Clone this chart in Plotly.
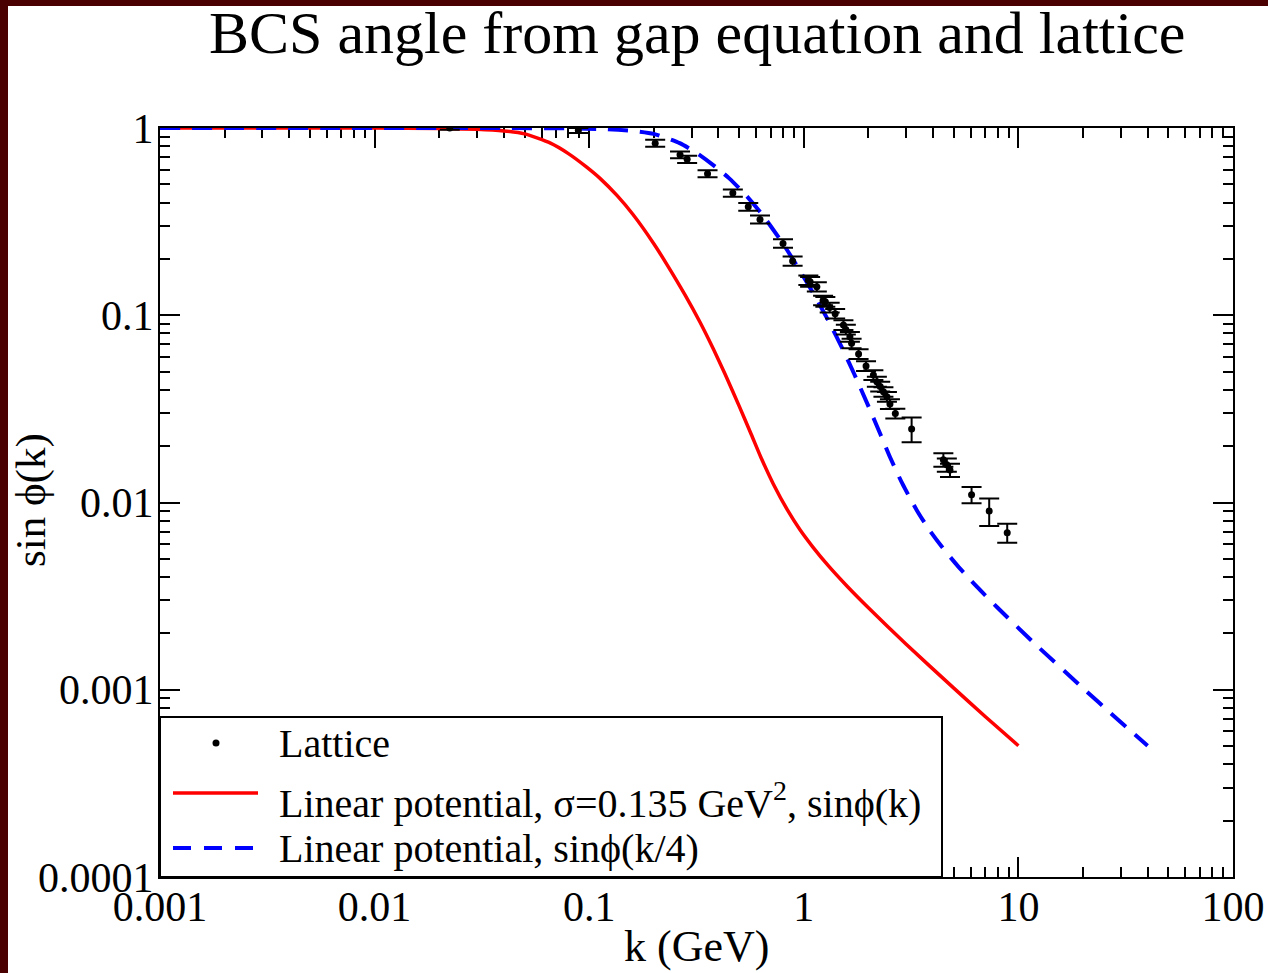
import plotly.graph_objects as go

# ---- data -------------------------------------------------------------
# lattice points: momentum k (GeV), sin phi(k), symmetric error
lattice_k = [0.0224, 0.089, 0.203, 0.265, 0.286, 0.356, 0.467, 0.551, 0.625,
             0.80, 0.887, 1.05, 1.07, 1.15, 1.23, 1.26, 1.32, 1.40, 1.53,
             1.57, 1.64, 1.67, 1.80, 1.95, 2.11, 2.19, 2.27, 2.35, 2.44,
             2.52, 2.67, 3.18, 4.47, 4.64, 4.80, 6.05, 7.31, 8.87]
lattice_y = [1.0, 0.97, 0.83, 0.72, 0.68, 0.57, 0.45, 0.38, 0.325,
             0.242, 0.195, 0.154, 0.151, 0.142, 0.12, 0.118, 0.11, 0.102, 0.0887,
             0.084, 0.0768, 0.0708, 0.0621, 0.0536, 0.048, 0.0442, 0.0416, 0.039, 0.0367,
             0.0336, 0.0299, 0.0247, 0.0169, 0.0159, 0.0149, 0.0110, 0.0090, 0.0069]
lattice_err = [0.02, 0.03, 0.035, 0.03, 0.03, 0.025, 0.02, 0.018, 0.016,
               0.013, 0.011, 0.009, 0.009, 0.008, 0.007, 0.007, 0.0066, 0.006, 0.0053,
               0.005, 0.0046, 0.0042, 0.0037, 0.0032, 0.0029, 0.0027, 0.0025, 0.0023, 0.0022,
               0.002, 0.0018, 0.0037, 0.0014, 0.0013, 0.0012, 0.0011, 0.0015, 0.0008]

# gap-equation solution, linear potential: sin phi(k)
red_k = [0.001, 0.005, 0.01, 0.02, 0.03, 0.04, 0.05, 0.066, 0.08, 0.097, 0.112,
         0.135, 0.16, 0.2, 0.23, 0.28, 0.328, 0.38, 0.43, 0.5, 0.57, 0.63, 0.72,
         0.84, 0.96, 1.1, 1.3, 1.6, 2.0, 3.0, 5.0, 7.0, 10.0]
red_y = [1.0, 1.0, 0.999, 0.995, 0.985, 0.965, 0.93, 0.83, 0.73, 0.62, 0.54,
         0.435, 0.345, 0.241, 0.187, 0.128, 0.092, 0.0656, 0.0484, 0.0327, 0.023, 0.0175, 0.0126,
         0.0091, 0.00715, 0.0058, 0.0046, 0.00355, 0.00274, 0.00175, 0.00102, 0.00072, 0.000502]

# same solution with rescaled momentum: sin phi(k/4)
blue_k = [0.001, 0.02, 0.04, 0.08, 0.12, 0.16, 0.2, 0.264, 0.32, 0.388, 0.448,
          0.54, 0.64, 0.8, 0.92, 1.12, 1.312, 1.52, 1.72, 2.0, 2.28, 2.52, 2.88,
          3.36, 3.84, 4.4, 5.2, 6.4, 8.0, 12.0, 20.0, 28.0, 40.0]
blue_y = [1.0, 1.0, 0.999, 0.995, 0.985, 0.965, 0.93, 0.83, 0.73, 0.62, 0.54,
          0.435, 0.345, 0.241, 0.187, 0.128, 0.092, 0.0656, 0.0484, 0.0327, 0.023, 0.0175, 0.0126,
          0.0091, 0.00715, 0.0058, 0.0046, 0.00355, 0.00274, 0.00175, 0.00102, 0.00072, 0.000502]

x_tickvals = [0.001, 0.01, 0.1, 1, 10, 100]
x_ticktext = ["0.001", "0.01", "0.1", "1", "10", "100"]
y_tickvals = [0.0001, 0.001, 0.01, 0.1, 1]
y_ticktext = ["0.0001", "0.001", "0.01", "0.1", "1"]

legend_labels = ["Lattice",
                 "Linear potential, σ=0.135 GeV<sup>2</sup>, sinϕ(k)",
                 "Linear potential, sinϕ(k/4)"]

# ---- layout geometry (pixels) -----------------------------------------
W, H = 1268, 973
ML, MR, MT, MB = 160, 35, 128, 96
PW, PH = W - ML - MR, H - MT - MB
FONT = "Liberation Serif"


def px(x):
    return (x - ML) / PW


def py(y):
    return (H - MB - y) / PH


def minor_vals(lo, hi):
    vals = []
    for e in range(lo, hi):
        for m in range(2, 10):
            vals.append(m * 10 ** e)
    return vals


fig = go.Figure()

fig.add_trace(go.Scatter(
    x=red_k, y=red_y, mode="lines",
    line=dict(color="#ff0000", width=3.5, shape="spline", smoothing=0.6),
))
fig.add_trace(go.Scatter(
    x=blue_k, y=blue_y, mode="lines",
    line=dict(color="#0000ff", width=4, dash="20px,12px",
              shape="spline", smoothing=0.6),
))
fig.add_trace(go.Scatter(
    x=lattice_k, y=lattice_y, mode="markers",
    marker=dict(color="black", size=7),
    error_y=dict(type="data", array=lattice_err, color="black",
                 thickness=2, width=10),
))

axis_common = dict(
    type="log", showgrid=False, zeroline=False, automargin=False,
    showline=True, linecolor="black", linewidth=2, mirror="allticks",
    ticks="inside", ticklen=20, tickwidth=2, tickcolor="black",
    tickfont=dict(family=FONT, size=42, color="black"),
    layer="below traces",
)

fig.update_xaxes(
    range=[-3, 2], tickvals=x_tickvals, ticktext=x_ticktext,
    ticklabelstandoff=-8,
    minor=dict(tickvals=minor_vals(-3, 2), ticks="inside", ticklen=10,
               tickwidth=2, tickcolor="black", showgrid=False),
    **axis_common,
)
fig.update_yaxes(
    range=[-4, 0], tickvals=y_tickvals, ticktext=y_ticktext,
    ticklabelstandoff=-4,
    minor=dict(tickvals=minor_vals(-4, 0), ticks="inside", ticklen=10,
               tickwidth=2, tickcolor="black", showgrid=False),
    **axis_common,
)

shapes = []
# frame strips on the page edge
maroon = "#4a0000"
shapes.append(dict(type="rect", xref="paper", yref="paper", layer="above",
                   x0=px(0), x1=px(8), y0=py(H), y1=py(0),
                   fillcolor=maroon, line=dict(width=0)))
shapes.append(dict(type="rect", xref="paper", yref="paper", layer="above",
                   x0=px(0), x1=px(W), y0=py(6), y1=py(0),
                   fillcolor=maroon, line=dict(width=0)))

# legend box
shapes.append(dict(type="rect", xref="paper", yref="paper", layer="above",
                   x0=px(160), x1=px(942), y0=py(877), y1=py(717),
                   fillcolor="white", line=dict(color="black", width=2)))
row_y = [743, 800, 848]
shapes.append(dict(type="circle", xref="paper", yref="paper", layer="above",
                   xsizemode="pixel", ysizemode="pixel",
                   xanchor=px(216), yanchor=py(row_y[0]),
                   x0=-3.5, x1=3.5, y0=-3.5, y1=3.5,
                   fillcolor="black", line=dict(width=0)))
shapes.append(dict(type="line", xref="paper", yref="paper", layer="above",
                   x0=px(173), x1=px(258), y0=py(793), y1=py(793),
                   line=dict(color="#ff0000", width=3.5)))
shapes.append(dict(type="line", xref="paper", yref="paper", layer="above",
                   x0=px(173), x1=px(258), y0=py(848), y1=py(848),
                   line=dict(color="#0000ff", width=4, dash="18px,13px")))

annotations = []
for label, yy in zip(legend_labels, row_y):
    annotations.append(dict(
        text=label, xref="paper", yref="paper",
        x=px(277), y=py(yy), xanchor="left", yanchor="middle",
        showarrow=False, font=dict(family=FONT, size=40, color="black"),
    ))

annotations.append(dict(
    text="BCS angle from gap equation and lattice", xref="paper", yref="paper",
    x=0.5, y=py(33), xanchor="center", yanchor="middle", showarrow=False,
    font=dict(family=FONT, size=60, color="black"),
))
annotations.append(dict(
    text="k (GeV)", xref="paper", yref="paper",
    x=0.5, y=py(946), xanchor="center", yanchor="middle", showarrow=False,
    font=dict(family=FONT, size=44, color="black"),
))
annotations.append(dict(
    text="sin ϕ(k)", xref="paper", yref="paper", textangle=-90,
    x=px(31), y=py(500), xanchor="center", yanchor="middle", showarrow=False,
    font=dict(family=FONT, size=43, color="black"),
))

fig.update_layout(
    width=W, height=H,
    margin=dict(l=ML, r=MR, t=MT, b=MB, pad=0, autoexpand=False),
    paper_bgcolor="white", plot_bgcolor="white",
    showlegend=False,
    shapes=shapes, annotations=annotations,
    font=dict(family=FONT, color="black"),
)

fig.write_html("out.html")
